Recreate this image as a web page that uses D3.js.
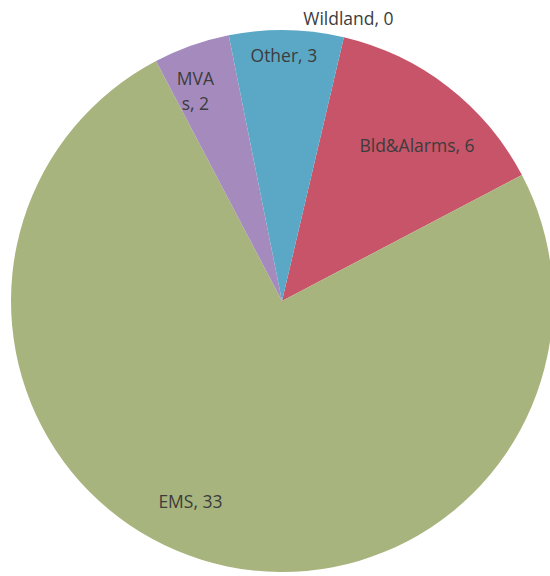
<!DOCTYPE html>
<html>
<head>
<meta charset="utf-8">
<script src="https://cdn.jsdelivr.net/npm/d3@7"></script>
<style>
  html, body { margin: 0; padding: 0; background: #ffffff; }
  svg { display: block; }
</style>
</head>
<body>
<svg id="chart" width="550" height="576"></svg>
<script>
// Data
const categories = ["Wildland", "Bld&Alarms", "EMS", "MVAs", "Other"];
const values = [0, 6, 33, 2, 3];
const colors = ["#5b7fb5", "#c75468", "#a8b47d", "#a58bbd", "#5aa8c6"];

// Label layout (polar: angle offset in degrees from slice middle, radius in px; multi-line split)
const labelLines = [["Wildland, 0"], ["Bld&Alarms, 6"], ["EMS, 33"], ["MVA", "s, 2"], ["Other, 3"]];
const labelPolar = [[0, 291], [3.2, 206], [7.3, 220], [-2.8, 228], [-0.5, 246]];

const svg = d3.select("#chart");
const cx = 282, cy = 301, R = 271;
const start = 13.2 * Math.PI / 180;

const pie = d3.pie().sort(null).value(d => d.value)
  .startAngle(start).endAngle(start + 2 * Math.PI);
const data = categories.map((c, i) => ({ name: c, value: values[i], i }));
const arcs = pie(data);
const arc = d3.arc().innerRadius(0).outerRadius(R);

const g = svg.append("g").attr("transform", `translate(${cx},${cy})`);
g.selectAll("path").data(arcs).join("path")
  .attr("d", arc)
  .attr("fill", d => colors[d.data.i]);

const lg = g.append("g")
  .attr("font-family", "'Open Sans', 'Liberation Sans', sans-serif")
  .attr("font-size", 17.5)
  .attr("fill", "#3c3c3c");

arcs.forEach(a => {
  const i = a.data.i;
  const mid = (a.startAngle + a.endAngle) / 2 + labelPolar[i][0] * Math.PI / 180;
  const r = labelPolar[i][1];
  const x = Math.sin(mid) * r, y = -Math.cos(mid) * r;
  const lines = labelLines[i];
  const lh = 25;
  lines.forEach((t, k) => {
    lg.append("text")
      .attr("x", x)
      .attr("y", y + (k - (lines.length - 1) / 2) * lh)
      .attr("text-anchor", "middle")
      .attr("dominant-baseline", "central")
      .text(t);
  });
});
</script>
</body>
</html>
